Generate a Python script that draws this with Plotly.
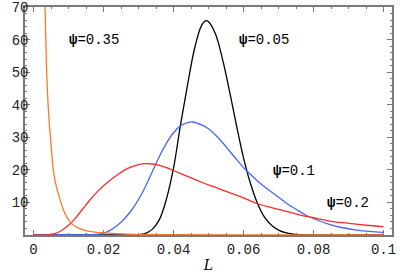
import plotly.graph_objects as go

# psi = 0.05 (black)
L_black = [0.0, 0.026, 0.030, 0.032, 0.034, 0.036, 0.038, 0.040, 0.042, 0.044, 0.046, 0.048,
           0.0493, 0.050, 0.052, 0.054, 0.056, 0.058, 0.060, 0.062, 0.064, 0.066, 0.068,
           0.070, 0.072, 0.074, 0.076, 0.080, 0.1]
V_black = [0, 0, 0.05, 0.5, 1.8, 4.8, 11.1, 20.5, 33.8, 46.0, 57.2, 64.3,
           65.8, 65.5, 61.7, 54.0, 44.2, 33.6, 23.7, 15.8, 9.7, 5.5, 3.0,
           1.5, 0.7, 0.3, 0.1, 0, 0]

# psi = 0.1 (blue)
L_blue = [0.0, 0.014, 0.016, 0.018, 0.020, 0.022, 0.024, 0.026, 0.028, 0.030, 0.032, 0.034,
          0.036, 0.038, 0.040, 0.042, 0.044, 0.0455, 0.048, 0.050, 0.052, 0.054, 0.056,
          0.058, 0.060, 0.062, 0.064, 0.066, 0.068, 0.070, 0.0725, 0.075, 0.078, 0.081,
          0.0847, 0.088, 0.092, 0.096, 0.1]
V_blue = [0, 0, 0.05, 0.2, 0.6, 1.5, 3.0, 5.0, 7.6, 10.9, 14.9, 19.6,
          24.2, 28.2, 31.4, 33.5, 34.5, 34.7, 33.8, 32.6, 30.7, 28.4, 25.8,
          23.2, 20.7, 18.6, 16.6, 14.8, 13.2, 11.6, 9.6, 7.9, 6.0, 4.6,
          3.2, 2.3, 1.6, 1.1, 0.8]

# psi = 0.2 (red)
L_red = [0.0, 0.004, 0.006, 0.008, 0.010, 0.012, 0.014, 0.016, 0.018, 0.020, 0.022, 0.024,
         0.026, 0.028, 0.030, 0.032, 0.034, 0.036, 0.038, 0.040, 0.044, 0.048, 0.052,
         0.056, 0.060, 0.064, 0.068, 0.072, 0.076, 0.080, 0.085, 0.090, 0.095, 0.1]
V_red = [0, 0, 0.4, 1.4, 3.0, 5.2, 7.9, 10.6, 13.0, 15.1, 16.9, 18.5,
         19.9, 20.9, 21.6, 21.9, 21.8, 21.4, 20.7, 19.8, 18.0, 16.2, 14.6,
         13.0, 11.4, 9.6, 8.4, 7.3, 6.2, 5.3, 4.2, 3.6, 3.0, 2.6]

# psi = 0.35 (orange)
L_orange = [0.0026, 0.0030, 0.0033, 0.0037, 0.0041, 0.0045, 0.0049, 0.0055, 0.0061, 0.0070,
            0.0076, 0.0085, 0.0095, 0.0106, 0.0120, 0.0142, 0.0161, 0.0180, 0.0209, 0.025,
            0.030, 0.040, 0.060, 0.1]
V_orange = [95, 78, 70, 52, 41.5, 34.5, 29.3, 21.5, 17.0, 13.0,
            10.8, 7.8, 5.5, 3.8, 2.6, 1.6, 1.1, 0.8, 0.6, 0.35,
            0.2, 0.08, 0.02, 0]

x_ticks = [0, 0.02, 0.04, 0.06, 0.08, 0.1]
x_ticktext = ["0", "0.02", "0.04", "0.06", "0.08", "0.1"]
y_ticks = [10, 20, 30, 40, 50, 60, 70]
y_ticktext = ["10", "20", "30", "40", "50", "60", "70"]

labels = ["ψ=0.35", "ψ=0.05", "ψ=0.1", "ψ=0.2"]
label_pos = [(0.0095, 60.0), (0.0580, 60.0), (0.0679, 19.7), (0.0832, 9.9)]

fig = go.Figure()
series = [
    (L_black, V_black, "#000000"),
    (L_blue, V_blue, "#4a64ff"),
    (L_red, V_red, "#ff2a2a"),
    (L_orange, V_orange, "#ff7a26"),
]
for xs, ys, col in series:
    fig.add_trace(go.Scatter(x=xs, y=ys, mode="lines",
                             line=dict(color=col, width=1.3, shape="spline", smoothing=1.0),
                             showlegend=False, hoverinfo="skip"))

mono = "Liberation Mono, Courier New, monospace"
for txt, (lx, ly) in zip(labels, label_pos):
    sym, num = txt.split("=")
    fig.add_annotation(x=lx, y=ly, xref="x", yref="y", showarrow=False, xanchor="left",
                       text="<b>" + sym + "</b>=" + num,
                       font=dict(family=mono, size=14, color="black"))

frame = "#7a7a7a"
fig.update_layout(
    width=400, height=273,
    margin=dict(l=25, r=8, t=7, b=38),
    plot_bgcolor="white", paper_bgcolor="white",
    xaxis=dict(range=[-0.00243, 0.10243], showgrid=False, zeroline=False,
               showline=True, linecolor=frame, linewidth=1.5, mirror="allticks",
               ticks="inside", ticklen=5, tickcolor=frame, tickwidth=1,
               tickmode="array", tickvals=x_ticks, ticktext=x_ticktext,
               tickfont=dict(family=mono, size=14, color="#222"),
               ticklabeloverflow="allow",
               minor=dict(tickmode="linear", tick0=0, dtick=0.005, ticks="inside",
                          ticklen=2.5, tickcolor=frame, showgrid=False),
               title=dict(text="<i>L</i>", font=dict(family="DejaVu Serif, serif", size=14, color="black"),
                          standoff=10),
               automargin=False),
    yaxis=dict(range=[0, 70.01], showgrid=False, zeroline=False,
               showline=True, linecolor=frame, linewidth=1.5, mirror="allticks",
               ticks="inside", ticklen=5, tickcolor=frame, tickwidth=1,
               tickmode="array", tickvals=y_ticks, ticktext=y_ticktext,
               tickfont=dict(family=mono, size=14, color="#222"),
               ticklabelstandoff=-8, ticklabeloverflow="allow",
               minor=dict(tickmode="linear", tick0=0, dtick=2, ticks="inside",
                          ticklen=2.5, tickcolor=frame, showgrid=False),
               automargin=False),
)

fig.write_html("out.html", config={"displayModeBar": False},
               post_script="document.body.style.margin='0px';document.body.style.padding='0px';")
